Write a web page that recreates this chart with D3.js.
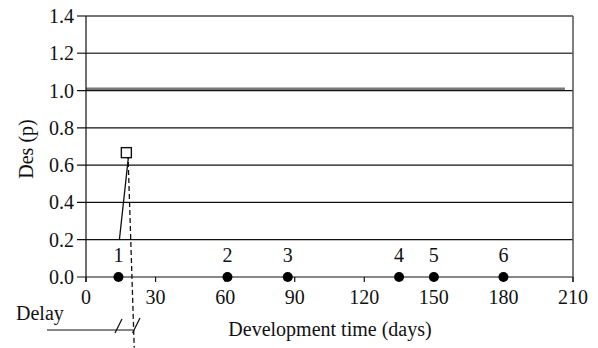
<!DOCTYPE html>
<html>
<head>
<meta charset="utf-8">
<script src="https://cdn.jsdelivr.net/npm/d3@7"></script>
<style>
  body { margin: 0; background: #fff; }
</style>
</head>
<body>
<div id="chart"></div>
<script>
// Data
var yTicks = [0, 0.2, 0.4, 0.6, 0.8, 1.0, 1.2, 1.4]
var xTicks = [0, 30, 60, 90, 120, 150, 180, 210]
var milestoneLabels = ['1', '2', '3', '4', '5', '6']
var milestoneDays = [14, 61, 87, 135, 150, 180]
var limitValue = 1.01
var squarePoint = [17.4, 0.667]
var squareLineEnd = [14.4, 0.2]
var dashedLine = [[18.1, 0.66], [20.8, -0.38]]

var width = 598, height = 348
var margin = { left: 86, right: 25, top: 16, bottom: 71 }
var font = 'Liberation Serif'
var fontSize = 20

var x = d3.scaleLinear().domain([0, 210]).range([margin.left, width - margin.right])
var y = d3.scaleLinear().domain([0, 1.4]).range([height - margin.bottom, margin.top])

var svg = d3.select('#chart').append('svg')
  .attr('width', width)
  .attr('height', height)

function label(px, py, str, anchor){
  return svg.append('text')
    .attr('x', px).attr('y', py)
    .attr('text-anchor', anchor || 'middle')
    .attr('font-family', font)
    .attr('font-size', fontSize)
    .attr('fill', '#111')
    .text(str)
}

// Horizontal grid lines (extend left as ticks)
yTicks.forEach(function(v){
  var dark = v >= 1.2
  svg.append('line')
    .attr('x1', margin.left - 9).attr('x2', x(210))
    .attr('y1', y(v)).attr('y2', y(v))
    .attr('stroke', dark ? '#4a4a4a' : '#111')
    .attr('stroke-width', dark ? 1.5 : 1.2)
})

// Limit line just above 1.0
svg.append('line')
  .attr('x1', x(0)).attr('x2', x(206.5))
  .attr('y1', y(limitValue)).attr('y2', y(limitValue))
  .attr('stroke', '#777')
  .attr('stroke-width', 2.5)

// Y axis line
svg.append('line')
  .attr('x1', x(0)).attr('x2', x(0))
  .attr('y1', y(1.4)).attr('y2', y(0) + 5)
  .attr('stroke', '#111').attr('stroke-width', 1.2)

// Right border
svg.append('line')
  .attr('x1', x(210)).attr('x2', x(210))
  .attr('y1', y(1.4)).attr('y2', y(0) + 5)
  .attr('stroke', '#555').attr('stroke-width', 1.5)

// X ticks
xTicks.forEach(function(v){
  svg.append('line')
    .attr('x1', x(v)).attr('x2', x(v))
    .attr('y1', y(0)).attr('y2', y(0) + 5)
    .attr('stroke', '#111').attr('stroke-width', 1.2)
  label(x(v), y(0) + 27, v)
})

// Y tick labels
yTicks.forEach(function(v){
  label(margin.left - 12, y(v) + 7, d3.format('.1f')(v), 'end')
})

// Axis titles
label(0, 0, 'Des (p)')
  .attr('transform', 'translate(33,149) rotate(-90)')

label(330, 336, 'Development time (days)')

// Line from square down to milestone 1
svg.append('line')
  .attr('x1', x(squarePoint[0]) + 2).attr('y1', y(squarePoint[1]) + 5)
  .attr('x2', x(squareLineEnd[0])).attr('y2', y(squareLineEnd[1]))
  .attr('stroke', '#111').attr('stroke-width', 1.3)

// Dashed delay line
svg.append('line')
  .attr('x1', x(dashedLine[0][0])).attr('y1', y(dashedLine[0][1]))
  .attr('x2', x(dashedLine[1][0])).attr('y2', y(dashedLine[1][1]))
  .attr('stroke', '#111').attr('stroke-width', 1.3)
  .attr('stroke-dasharray', '5,3')

// Square marker
svg.append('rect')
  .attr('x', x(squarePoint[0]) - 5).attr('y', y(squarePoint[1]) - 5)
  .attr('width', 10).attr('height', 10)
  .attr('fill', '#fff').attr('stroke', '#111').attr('stroke-width', 1.4)

// Milestone dots and labels
milestoneDays.forEach(function(d, i){
  svg.append('circle')
    .attr('cx', x(d)).attr('cy', y(0))
    .attr('r', 5)
    .attr('fill', '#000')
  label(x(d), y(0) - 15, milestoneLabels[i])
})

// Delay annotation
var delayY = 330
svg.append('line')
  .attr('x1', 47).attr('x2', x(dashedLine[1][0]) - 1)
  .attr('y1', delayY).attr('y2', delayY)
  .attr('stroke', '#111').attr('stroke-width', 1.2)
svg.append('line')
  .attr('x1', 115).attr('y1', delayY + 3)
  .attr('x2', 122).attr('y2', delayY - 11)
  .attr('stroke', '#111').attr('stroke-width', 1.2)
svg.append('line')
  .attr('x1', 132.5).attr('y1', delayY + 3)
  .attr('x2', 140).attr('y2', delayY - 12)
  .attr('stroke', '#111').attr('stroke-width', 1.2)
label(16, 320, 'Delay', 'start')
</script>
</body>
</html>
